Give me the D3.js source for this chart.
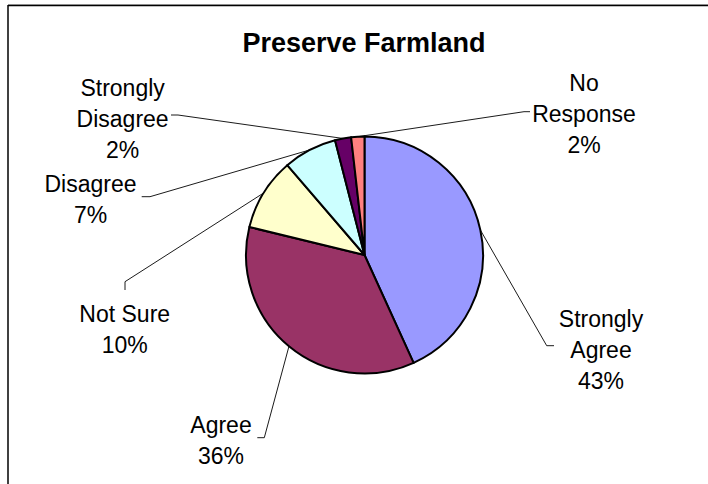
<!DOCTYPE html>
<html>
<head>
<meta charset="utf-8">
<script src="https://cdn.jsdelivr.net/npm/d3@7"></script>
<style>
  html, body { margin: 0; padding: 0; background: #fff; }
  svg { display: block; }
  text { font-family: Arial, "Liberation Sans", sans-serif; }
</style>
</head>
<body>
<svg id="chart" width="708" height="484"></svg>
<script>
// ---- data ----
const title = "Preserve Farmland";
const categories = ["Strongly Agree", "Agree", "Not Sure", "Disagree", "Strongly Disagree", "No Response"];
const values = [43.2, 35.6, 9.9, 7.3, 2.2, 1.8];
const labelLines = [["Strongly", "Agree"], ["Agree"], ["Not Sure"], ["Disagree"], ["Strongly", "Disagree"], ["No", "Response"]];
const colors = ["#9999FF", "#993366", "#FFFFCC", "#CCFFFF", "#660066", "#FF8080"];

// ---- layout (label block anchors relative to pie centre, leader elbow/end relative) ----
const labelLayout = [
  { x: 236.5, y0: 71.7,  elbow: [182.2, 90.7], end: [189.5, 90.7] },
  { x: -143.5, y0: 177.7, elbow: [-100.2, 182.7], end: [-107.2, 182.7] },
  { x: -239.8, y0: 67.3, elbow: [-239.5, 26.7], end: [-239.5, 35] },
  { x: -274, y0: -62.7,  elbow: [-214.5, -58.3], end: [-222.8, -58.3] },
  { x: -241.9, y0: -159, elbow: [-186.5, -140], end: [-193.5, -140] },
  { x: 219.5, y0: -164,  elbow: [159.5, -143.3], end: [165.5, -143.3] }
];

const W = 708, H = 484;
const cx = 364.5, cy = 255, r = 118.5;
const lineH = 31;

const svg = d3.select("#chart");

// frame
svg.append("rect").attr("x", 0).attr("y", 0).attr("width", W).attr("height", H).attr("fill", "#fff");
svg.append("line").attr("x1", 8).attr("x2", W).attr("y1", 4.5).attr("y2", 4.5).attr("stroke", "#bbb").attr("stroke-width", 1);
svg.append("line").attr("x1", 8).attr("x2", W).attr("y1", 5.5).attr("y2", 5.5).attr("stroke", "#000").attr("stroke-width", 1.5);
svg.append("line").attr("x1", 8).attr("x2", 8).attr("y1", 5).attr("y2", H).attr("stroke", "#000").attr("stroke-width", 1.5);

// title
svg.append("text")
  .attr("x", 364).attr("y", 52)
  .attr("text-anchor", "middle")
  .attr("font-size", "27px").attr("font-weight", "bold")
  .attr("fill", "#000")
  .text(title);

const pie = d3.pie().sort(null).value(d => d)
  .startAngle(0).endAngle(2 * Math.PI);
const arcs = pie(values);
const arc = d3.arc().innerRadius(0).outerRadius(r);
const edgeArc = d3.arc().innerRadius(r).outerRadius(r);

const g = svg.append("g").attr("transform", `translate(${cx},${cy})`);

g.selectAll("path.slice")
  .data(arcs)
  .join("path")
  .attr("class", "slice")
  .attr("d", arc)
  .attr("fill", (d, i) => colors[i])
  .attr("stroke", "#000")
  .attr("stroke-width", 2)
  .attr("stroke-linejoin", "round");

const total = d3.sum(values);

// leader lines
g.selectAll("polyline.leader")
  .data(arcs)
  .join("polyline")
  .attr("class", "leader")
  .attr("points", (d, i) => {
    const p = edgeArc.centroid(d);
    const L = labelLayout[i];
    return [p, L.elbow, L.end].map(q => q.join(",")).join(" ");
  })
  .attr("fill", "none")
  .attr("stroke", "#000")
  .attr("stroke-width", 0.9);

// labels
arcs.forEach((d, i) => {
  const L = labelLayout[i];
  const lines = labelLines[i].concat([Math.round(values[i] / total * 100) + "%"]);
  const t = g.append("text")
    .attr("text-anchor", "middle")
    .attr("font-size", "23px")
    .attr("fill", "#000");
  lines.forEach((s, k) => {
    t.append("tspan").attr("x", L.x).attr("y", L.y0 + k * lineH).text(s);
  });
});
</script>
</body>
</html>
